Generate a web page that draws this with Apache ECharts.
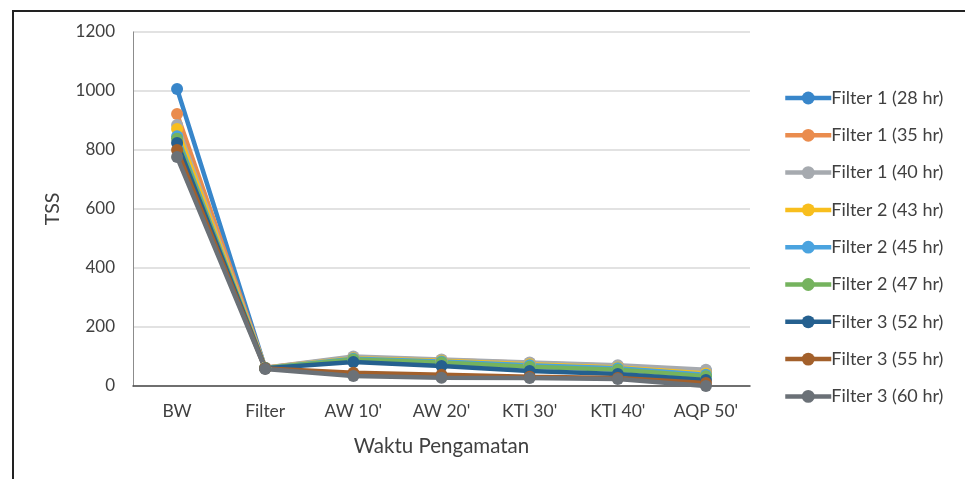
<!DOCTYPE html>
<html>
<head>
<meta charset="utf-8">
<script src="https://cdn.jsdelivr.net/npm/echarts@6/dist/echarts.min.js"></script>
<style>
  html, body { margin: 0; padding: 0; background: #fff; }
  #chart { width: 965px; height: 479px; }
</style>
</head>
<body>
<div id="chart"></div>
<script>
// Observation stages along the treatment train
const categories = ["BW", "Filter", "AW 10'", "AW 20'", "KTI 30'", "KTI 40'", "AQP 50'"];

// TSS per filter run
const f1_28 = [1007, 61, 95, 86, 76, 66, 52];
const f1_35 = [922, 62, 97, 88, 78, 68, 47];
const f1_40 = [885, 62, 100, 90, 80, 70, 55];
const f2_43 = [871, 61, 94, 86, 74, 63, 42];
const f2_45 = [847, 60, 92, 83, 70, 60, 38];
const f2_47 = [838, 60, 90, 80, 65, 55, 33];
const f3_52 = [824, 60, 81, 68, 51, 41, 20];
const f3_55 = [800, 59, 45, 38, 31, 27, 10];
const f3_60 = [776, 58, 34, 28, 27, 24, 0];

const seriesNames = [
  "Filter 1 (28 hr)", "Filter 1 (35 hr)", "Filter 1 (40 hr)",
  "Filter 2 (43 hr)", "Filter 2 (45 hr)", "Filter 2 (47 hr)",
  "Filter 3 (52 hr)", "Filter 3 (55 hr)", "Filter 3 (60 hr)"
];
const seriesData = [f1_28, f1_35, f1_40, f2_43, f2_45, f2_47, f3_52, f3_55, f3_60];
const colors = ["#3886CA", "#EA8C4E", "#A6AAAF", "#F8BE1D", "#4AA3DF", "#75B35E", "#25608F", "#A3602B", "#6B7177"];

// Y-axis scale
const yMin = 0, yMax = 1200, yStep = 200;

const textColor = "#404040";
const font = "Lato, 'Open Sans', sans-serif";

const chart = echarts.init(document.getElementById("chart"), null, { renderer: "canvas" });

chart.setOption({
  animation: false,
  color: colors,
  grid: { left: 133, right: 215, top: 32, bottom: 93, containLabel: false },
  xAxis: {
    type: "category",
    data: categories,
    boundaryGap: true,
    name: "Waktu Pengamatan",
    nameLocation: "middle",
    nameGap: 50,
    nameTextStyle: { color: textColor, fontSize: 20.5, fontFamily: font },
    axisLine: { lineStyle: { color: "#4a4a4a", width: 1.5 } },
    axisTick: { show: false },
    axisLabel: { color: textColor, fontSize: 17.5, fontFamily: font, margin: 16 },
    splitLine: { show: false }
  },
  yAxis: {
    type: "value",
    min: yMin, max: yMax, interval: yStep,
    name: "TSS",
    nameLocation: "middle",
    nameGap: 70,
    nameTextStyle: { color: textColor, fontSize: 19.5, fontFamily: font },
    axisLine: { show: true, lineStyle: { color: "#8c8c8c", width: 1 } },
    axisTick: { show: false },
    axisLabel: {
      color: textColor, fontSize: 17, fontFamily: font, margin: 18,
      formatter: v => String(v)
    },
    splitLine: { lineStyle: { color: "#D9D9D9", width: 1.5 } }
  },
  legend: {
    orient: "vertical",
    left: 778,
    top: 84,
    itemGap: 19.3,
    itemWidth: 46,
    itemHeight: 16,
    lineStyle: { width: 4.5 },
    textStyle: { color: textColor, fontSize: 18, fontFamily: font, padding: [0, 0, 0, -5] },
    data: seriesNames
  },
  series: seriesNames.map((name, i) => ({
    name: name,
    type: "line",
    data: seriesData[i],
    symbol: "circle",
    symbolSize: 12,
    lineStyle: { width: 4.5, color: colors[i] },
    itemStyle: { color: colors[i] },
    emphasis: { disabled: true }
  })),
  graphic: [
    {
      type: "polyline",
      shape: { points: [[13, 479], [13, 11], [965, 11]] },
      style: { stroke: "#222", lineWidth: 2, fill: null },
      silent: true
    }
  ]
});
</script>
</body>
</html>
